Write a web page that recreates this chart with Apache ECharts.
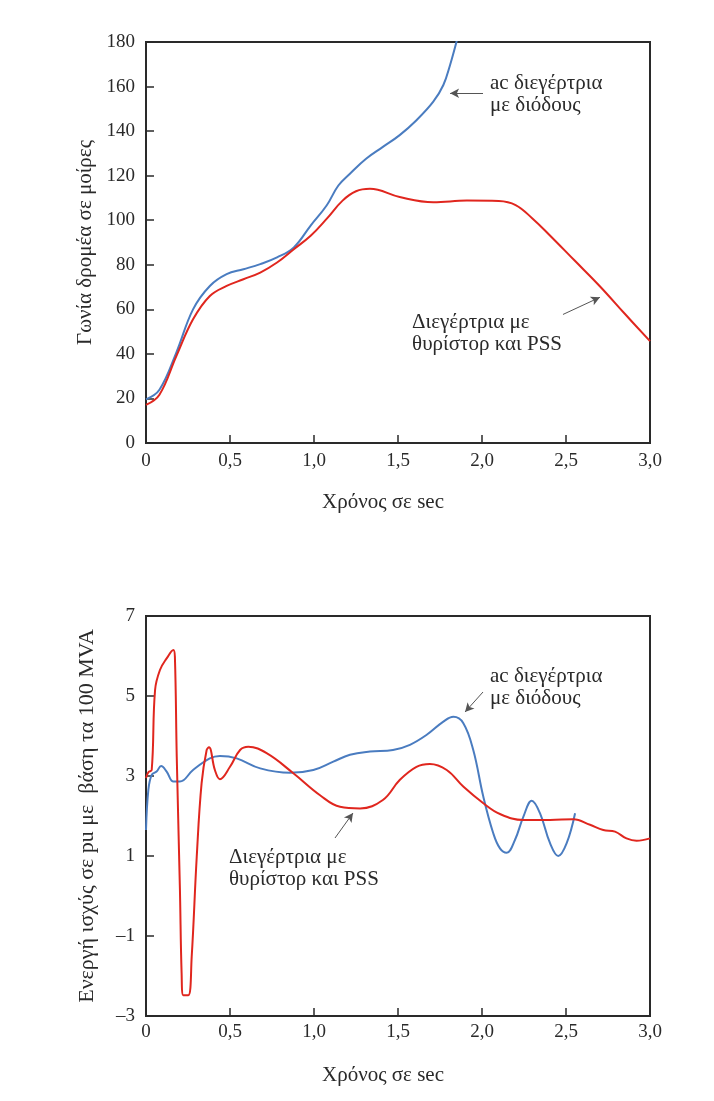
<!DOCTYPE html>
<html>
<head>
<meta charset="utf-8">
<style>
  html, body { margin: 0; padding: 0; background: #fff; }
  #chart { width: 714px; height: 1101px; }
</style>
<script src="https://cdn.jsdelivr.net/npm/echarts@6/dist/echarts.min.js"></script>
</head>
<body>
<div id="chart"></div>
<script>
// x tick labels (shared by both plots)
const xTickLabels = ['0', '0,5', '1,0', '1,5', '2,0', '2,5', '3,0']
const angleTickLabels = ['0', '20', '40', '60', '80', '100', '120', '140', '160', '180']
const powerTickLabels = ['–3', '–1', '1', '3', '5', '7']

// upper plot: rotor angle (deg) vs time (s)
const angleAcDiode = [
  [0, 19.6], [0.08, 23.9], [0.18, 40.5], [0.28, 60], [0.38, 70.5], [0.48, 75.8],
  [0.58, 78], [0.68, 80.3], [0.78, 83.3], [0.88, 87.8], [0.98, 97.6], [1.075, 106.6],
  [1.145, 115.6], [1.214, 120.9], [1.31, 127.6], [1.41, 132.9], [1.51, 138.2],
  [1.61, 144.9], [1.71, 153.2], [1.77, 160.7], [1.81, 169.7], [1.853, 181.5]
]
const angleThyristorPss = [
  [0, 17.1], [0.08, 21.7], [0.18, 38.9], [0.28, 55.5], [0.38, 66], [0.48, 70.5],
  [0.58, 73.5], [0.68, 76.5], [0.78, 81], [0.88, 87], [0.98, 93], [1.075, 100.6],
  [1.17, 108.8], [1.25, 113], [1.333, 114.1], [1.51, 110.4], [1.71, 108.1],
  [1.91, 108.8], [2.1, 108.6], [2.2, 106.8], [2.3, 100.8], [2.4, 93.5],
  [2.55, 82], [2.7, 70.5], [2.85, 58], [3.0, 45.7]
]

// lower plot: active power (pu on 100 MVA) vs time (s)
const powerAcDiode = [
  [0, 1.65], [0.014, 2.65], [0.034, 3.03], [0.063, 3.11], [0.09, 3.25], [0.123, 3.11],
  [0.163, 2.86], [0.202, 2.86], [0.28, 3.15], [0.38, 3.44], [0.44, 3.5], [0.54, 3.44],
  [0.68, 3.19], [0.857, 3.08], [0.996, 3.15], [1.115, 3.36], [1.214, 3.53],
  [1.333, 3.61], [1.47, 3.65], [1.571, 3.78], [1.671, 4.03], [1.77, 4.36], [1.83, 4.48],
  [1.889, 4.32], [1.948, 3.65], [2.008, 2.48], [2.067, 1.57], [2.107, 1.19],
  [2.147, 1.08], [2.196, 1.4], [2.246, 1.98], [2.296, 2.38], [2.345, 2.07],
  [2.405, 1.32], [2.454, 1.0], [2.504, 1.32], [2.554, 2.07]
]
const powerThyristorPss = [
  [0, 2.95], [0.015, 3.1], [0.034, 3.15], [0.054, 5.15], [0.083, 5.65], [0.123, 5.94],
  [0.163, 6.15], [0.172, 5.98], [0.183, 3.48], [0.202, 0.15], [0.212, -1.93],
  [0.222, -2.48], [0.252, -2.48], [0.272, -1.52], [0.302, 0.98], [0.331, 2.82],
  [0.361, 3.65], [0.375, 3.72], [0.41, 3.15], [0.44, 2.92], [0.5, 3.23], [0.56, 3.65],
  [0.609, 3.73], [0.718, 3.57], [0.877, 3.07], [1.036, 2.52], [1.155, 2.23],
  [1.274, 2.19], [1.41, 2.4], [1.51, 2.9], [1.61, 3.23], [1.69, 3.3], [1.79, 3.15],
  [1.89, 2.73], [2.008, 2.32], [2.107, 2.05], [2.246, 1.9], [2.405, 1.9],
  [2.544, 1.92], [2.643, 1.78], [2.722, 1.65], [2.792, 1.61], [2.86, 1.44],
  [2.92, 1.38], [3.0, 1.44]
]

// annotation arrows: [from, to] in data units
const angleArrowBlue = [[2.006, 157], [1.81, 157]]
const angleArrowRed = [[2.482, 57.7], [2.702, 65.4]]
const powerArrowBlue = [[2.006, 5.1], [1.899, 4.6]]
const powerArrowRed = [[1.125, 1.45], [1.232, 2.075]]

const BLUE = '#4a7cc0'
const RED = '#e0261e'
const INK = '#2a2a2a'
const FONT = 'Liberation Serif'

const chart = echarts.init(document.getElementById('chart'))

function xAxisCfg(gridIndex, labelMargin) {
  return {
    type: 'value', gridIndex, min: 0, max: 3, interval: 0.5,
    name: 'Χρόνος σε sec', nameLocation: 'middle', nameGap: 49,
    nameTextStyle: { fontFamily: FONT, fontSize: 21, color: INK, padding: [0, 30, 0, 0] },
    axisLine: { show: true, onZero: false, lineStyle: { color: INK, width: 2 } },
    axisTick: { show: true, inside: true, length: 8, lineStyle: { color: INK, width: 1.5 } },
    axisLabel: {
      fontFamily: FONT, fontSize: 19, color: INK, margin: labelMargin,
      formatter: (v, i) => xTickLabels[i]
    },
    splitLine: { show: false }
  }
}

function yAxisCfg(gridIndex, min, max, interval, labels, name, nameSize) {
  return {
    type: 'value', gridIndex, min, max, interval,
    name, nameLocation: 'middle', nameGap: 48,
    nameTextStyle: { fontFamily: FONT, fontSize: nameSize, color: INK },
    axisLine: { show: true, onZero: false, lineStyle: { color: INK, width: 2 } },
    axisTick: { show: true, inside: true, length: 8, lineStyle: { color: INK, width: 1.5 } },
    axisLabel: {
      fontFamily: FONT, fontSize: 19, color: INK, margin: 11,
      formatter: (v, i) => labels[i]
    },
    splitLine: { show: false }
  }
}

function curve(name, xi, data, color) {
  return {
    name, type: 'line', xAxisIndex: xi, yAxisIndex: xi, data,
    smooth: 0.4, showSymbol: false,
    lineStyle: { color, width: 2 }
  }
}

function arrow(xi, pts) {
  return {
    type: 'line', xAxisIndex: xi, yAxisIndex: xi, data: [], silent: true,
    markLine: {
      silent: true, symbol: ['none', 'arrow'], symbolSize: [7, 9],
      label: { show: false },
      lineStyle: { color: '#555', width: 1, type: 'solid' },
      data: [[{ coord: pts[0] }, { coord: pts[1] }]]
    }
  }
}

const noteStyle = { fontFamily: FONT, fontSize: 21, fill: INK, lineHeight: 22 }

chart.setOption({
  backgroundColor: '#fff',
  animation: false,
  grid: [
    { left: 146, top: 42, width: 504, height: 401, show: true, borderColor: INK, borderWidth: 2 },
    { left: 146, top: 616, width: 504, height: 400, show: true, borderColor: INK, borderWidth: 2 }
  ],
  xAxis: [xAxisCfg(0, 9), xAxisCfg(1, 7)],
  yAxis: [
    yAxisCfg(0, 0, 180, 20, angleTickLabels, 'Γωνία δρομέα σε μοίρες', 21),
    yAxisCfg(1, -3, 7, 2, powerTickLabels, 'Ενεργή ισχύς σε pu με  βάση τα 100 MVA', 22)
  ],
  series: [
    curve('ac διεγέρτρια με διόδους', 0, angleAcDiode, BLUE),
    curve('Διεγέρτρια με θυρίστορ και PSS', 0, angleThyristorPss, RED),
    curve('ac διεγέρτρια με διόδους', 1, powerAcDiode, BLUE),
    curve('Διεγέρτρια με θυρίστορ και PSS', 1, powerThyristorPss, RED),
    arrow(0, angleArrowBlue),
    arrow(0, angleArrowRed),
    arrow(1, powerArrowBlue),
    arrow(1, powerArrowRed)
  ],
  graphic: [
    { type: 'text', left: 490, top: 72, style: Object.assign({ text: 'ac διεγέρτρια\nμε διόδους' }, noteStyle) },
    { type: 'text', right: 714 - 562, top: 311, style: Object.assign({ text: 'Διεγέρτρια με\nθυρίστορ και PSS', align: 'right' }, noteStyle) },
    { type: 'text', left: 490, top: 665, style: Object.assign({ text: 'ac διεγέρτρια\nμε διόδους' }, noteStyle) },
    { type: 'text', left: 229, top: 846, style: Object.assign({ text: 'Διεγέρτρια με\nθυρίστορ και PSS' }, noteStyle) }
  ]
})

window.addEventListener('resize', () => chart.resize())
</script>
</body>
</html>
